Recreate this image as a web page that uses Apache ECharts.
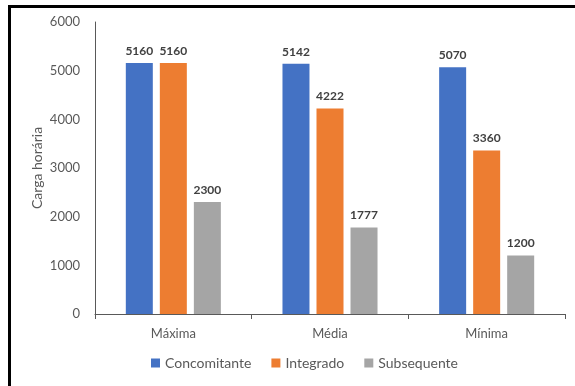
<!DOCTYPE html>
<html>
<head>
<meta charset="utf-8">
<script src="https://cdn.jsdelivr.net/npm/echarts@6/dist/echarts.min.js"></script>
<style>
  html, body { margin: 0; padding: 0; background: #fff; }
  #frame { position: absolute; left: 8px; top: 5px; width: 600px; height: 400px;
           border-top: 3px solid #000; border-left: 3px solid #000; }
  #chart { position: absolute; left: 0; top: 0; width: 575px; height: 386px; }
</style>
</head>
<body>
<div id="frame"></div>
<div id="chart"></div>
<script>
// categorias e séries
var categorias = ['Máxima', 'Média', 'Mínima'];
var concomitante = [5160, 5142, 5070];
var integrado = [5160, 4222, 3360];
var subsequente = [2300, 1777, 1200];
var yTicks = [0, 1000, 2000, 3000, 4000, 5000, 6000];

var fonte = 'Lato, "Open Sans", sans-serif';
var myChart = echarts.init(document.getElementById('chart'));

function serie(nome, dados, cor) {
    return {
        name: nome,
        type: 'bar',
        data: dados,
        barWidth: 27,
        barGap: '26%',
        itemStyle: { color: cor },
        label: {
            show: true,
            position: 'top',
            distance: 6,
            fontFamily: fonte,
            fontSize: 12,
            fontWeight: 'bold',
            color: '#404040'
        }
    };
}

var option = {
    animation: false,
    textStyle: { fontFamily: fonte },
    grid: { left: 95, right: 10, top: 22, bottom: 72 },
    legend: {
        bottom: 11,
        left: 146,
        itemWidth: 9,
        itemHeight: 9,
        itemGap: 20,
        icon: 'rect',
        textStyle: { fontFamily: fonte, fontSize: 14, color: '#595959' },
        data: ['Concomitante', 'Integrado', 'Subsequente']
    },
    xAxis: {
        type: 'category',
        data: categorias,
        axisLine: { lineStyle: { color: '#595959', width: 1 } },
        axisTick: { show: true, length: 5, lineStyle: { color: '#595959' } },
        axisLabel: { fontFamily: fonte, fontSize: 13, color: '#595959', margin: 13 }
    },
    yAxis: {
        type: 'value',
        min: yTicks[0],
        max: yTicks[yTicks.length - 1],
        interval: 1000,
        name: 'Carga horária',
        nameLocation: 'middle',
        nameGap: 51,
        nameMoveOverlap: false,
        nameTextStyle: { fontFamily: fonte, fontSize: 14, color: '#595959' },
        axisLine: { show: true, lineStyle: { color: '#595959', width: 1 } },
        axisTick: { show: false },
        splitLine: { show: false },
        axisLabel: {
            fontFamily: fonte, fontSize: 13, color: '#595959', margin: 15,
            formatter: function (v) { return String(v); }
        }
    },
    series: [
        serie('Concomitante', concomitante, '#4472C4'),
        serie('Integrado', integrado, '#ED7D31'),
        serie('Subsequente', subsequente, '#A5A5A5')
    ]
};
myChart.setOption(option);
</script>
</body>
</html>
